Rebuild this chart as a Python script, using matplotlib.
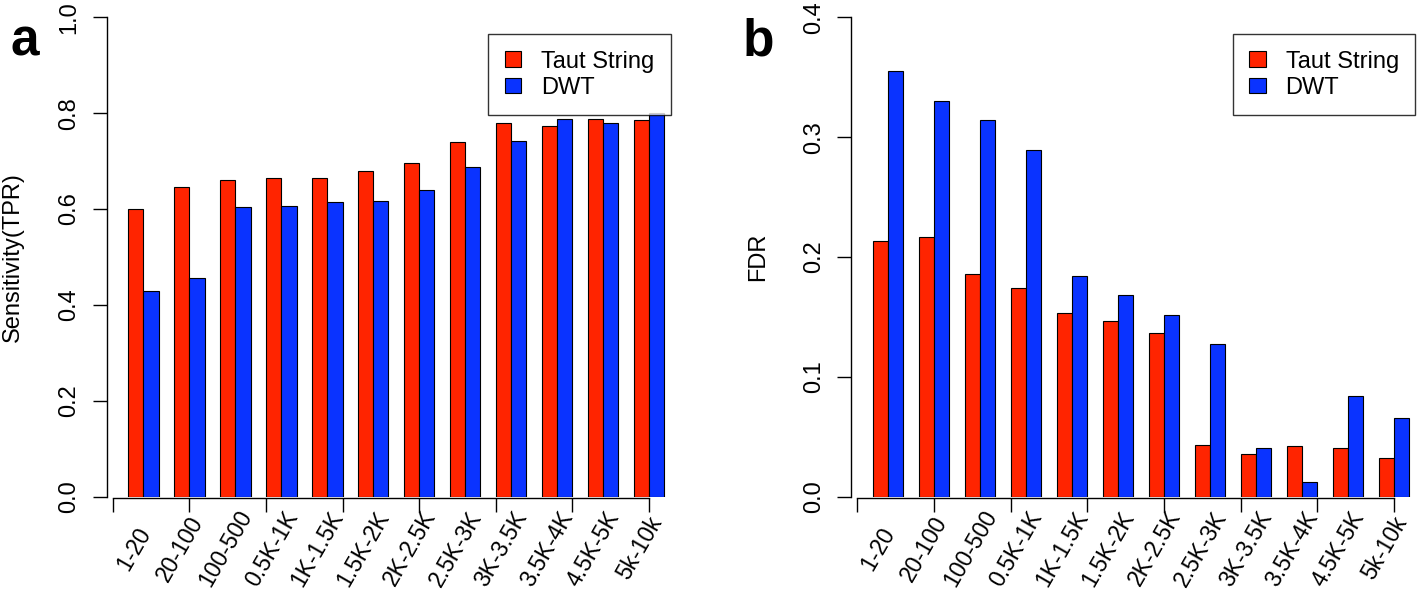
import numpy as np
import matplotlib
matplotlib.use("Agg")
import matplotlib.pyplot as plt
from matplotlib.patches import Patch
from matplotlib import transforms

plt.rcParams['font.family'] = ['Liberation Sans', 'DejaVu Sans']

bins = ["1-20", "20-100", "100-500", "0.5K-1K", "1K-1.5K", "1.5K-2K",
        "2K-2.5K", "2.5K-3K", "3K-3.5K", "3.5K-4K", "4.5K-5K", "5k-10k"]

tpr_taut = [0.601, 0.645, 0.660, 0.665, 0.665, 0.680,
            0.696, 0.739, 0.780, 0.774, 0.787, 0.786]
tpr_dwt = [0.430, 0.457, 0.605, 0.606, 0.614, 0.616,
           0.639, 0.687, 0.742, 0.787, 0.780, 0.800]

fdr_taut = [0.213, 0.217, 0.186, 0.174, 0.153, 0.147,
            0.137, 0.043, 0.036, 0.042, 0.041, 0.032]
fdr_dwt = [0.355, 0.330, 0.314, 0.289, 0.184, 0.168,
           0.152, 0.127, 0.041, 0.012, 0.084, 0.066]

red = '#ff2400'
blue = '#0a33ff'
fs = 17

W, H = 1418, 589
fig = plt.figure(figsize=(W / 100, H / 100), dpi=100)


def draw_panel(ax, taut, dwt, ymax, yticks, ylabel, letter, letter_x):
    n = len(taut)
    left = np.arange(n) * 3 + 1
    ax.bar(left, taut, width=1, align='edge', color=red,
           edgecolor='black', linewidth=0.8, zorder=2)
    ax.bar(left + 1, dwt, width=1, align='edge', color=blue,
           edgecolor='black', linewidth=0.8, zorder=2)

    ax.set_xlim(-0.4, 37.4)
    ax.set_ylim(0, ymax)

    for s in ['top', 'right']:
        ax.spines[s].set_visible(False)
    ax.spines['left'].set_bounds(0, ymax)
    ax.spines['bottom'].set_bounds(0, 35)
    ax.spines['bottom'].set_position(('outward', 1.2))
    for s in ['left', 'bottom']:
        ax.spines[s].set_linewidth(1.0)

    ax.set_xticks(np.arange(0, 36, 5))
    ax.set_xticklabels([])
    ax.set_yticks(yticks)
    ax.set_yticklabels(["%.1f" % v for v in yticks], rotation=90,
                       va='center')
    ax.tick_params(direction='out', length=10, width=1.0, labelsize=fs,
                   pad=9)

    # rotated category labels under each pair of bars
    trans = transforms.blended_transform_factory(ax.transData, ax.transAxes)
    for i, lab in enumerate(bins):
        ax.text(left[i] + 1 - 0.62, -0.108, lab, transform=trans,
                rotation=60, rotation_mode='anchor', ha='center',
                va='center', fontsize=16.5, clip_on=False)

    ax.set_ylabel(ylabel, fontsize=fs)
    ax.yaxis.set_label_coords(-0.142, 0.5)

    handles = [Patch(facecolor=red, edgecolor='black', linewidth=0.8),
               Patch(facecolor=blue, edgecolor='black', linewidth=0.8)]
    leg = ax.legend(handles, ["Taut String", "DWT"], loc='upper left',
                    bbox_to_anchor=(24.5, ymax * 0.965),
                    bbox_transform=ax.transData,
                    fontsize=fs, frameon=True, fancybox=False,
                    borderpad=0.7, handlelength=0.68, handleheight=0.65,
                    handletextpad=0.85, labelspacing=0.18,
                    borderaxespad=0)
    leg.get_frame().set_edgecolor('black')
    leg.get_frame().set_linewidth(1.0)
    leg.set_zorder(5)

    fig.text(letter_x / W, 1 - 55 / H, letter, fontsize=37,
             fontweight='bold', va='baseline', ha='left')


bottom = (H - 496.7) / H
height = (496.7 - 17.3) / H
ax_a = fig.add_axes([106.6 / W, bottom, 579.1 / W, height])
ax_b = fig.add_axes([851.2 / W, bottom, 579.5 / W, height])

draw_panel(ax_a, tpr_taut, tpr_dwt, 1.0, [0, 0.2, 0.4, 0.6, 0.8, 1.0],
           "Sensitivity(TPR)", "a", 11)
draw_panel(ax_b, fdr_taut, fdr_dwt, 0.4, [0, 0.1, 0.2, 0.3, 0.4],
           "FDR", "b", 743)

fig.savefig("out.png", dpi=100)
